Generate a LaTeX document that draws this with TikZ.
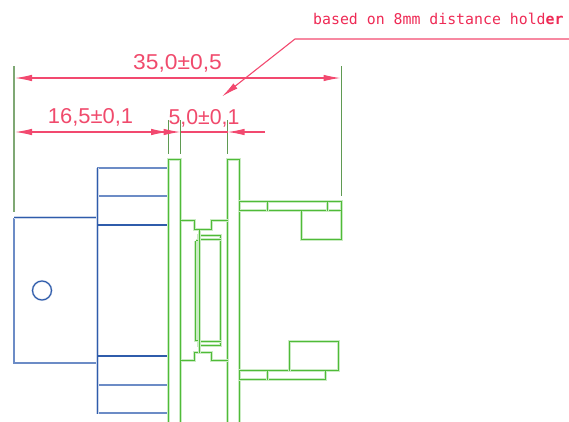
\documentclass[tikz,border=0pt]{standalone}
\usepackage{fontspec}
\setmainfont{Liberation Sans}
\newfontfamily\cadmono{DejaVu Sans Mono}
\usetikzlibrary{arrows.meta}
\definecolor{cadred}{HTML}{F04A6C}
\definecolor{notered}{HTML}{EE2A55}
\definecolor{linered}{HTML}{F2496F}
\definecolor{cadgreen}{HTML}{4FBB38}
\definecolor{extgreen}{HTML}{5F9A52}
\definecolor{softext}{HTML}{7FA874}
\definecolor{cadblue}{HTML}{2F5CAB}
\definecolor{softblue}{HTML}{6C8CC6}
\tikzset{
  dimline/.style={draw=linered,line width=1.1pt},
  tipA/.style={-{Latex[length=17pt,width=6.5pt]}},
  tipB/.style={{Latex[length=17pt,width=6.5pt]}-{Latex[length=17pt,width=6.5pt]}},
  extline/.style={draw=extgreen,line width=1.1pt},
  greenpart/.style={preaction={draw=cadgreen!30,line width=2.1pt},draw=cadgreen,line width=1.1pt},
  bluepart/.style={preaction={draw=cadblue!25,line width=2.1pt},draw=cadblue,line width=1.1pt},
  bluesoft/.style={draw=softblue,line width=1.1pt},
  bluethick/.style={draw=cadblue,line width=1.9pt},
  dimtext/.style={text=cadred,font=\fontsize{21.5}{24}\selectfont,inner sep=0pt},
  notetext/.style={text=notered,font=\cadmono\fontsize{14.85}{17}\selectfont,inner sep=0pt,anchor=west},
}
\begin{document}
\begin{tikzpicture}[x=1pt,y=-1pt]
\useasboundingbox (0,0) rectangle (569,421);
\clip (0,0) rectangle (569,421);
% blue body
\draw[bluesoft] (97,168) -- (168,168);
\draw[bluesoft] (97,413) -- (168,413);
\draw[bluesoft] (97,196) -- (168,196);
\draw[bluesoft] (97,385) -- (168,385);
\draw[bluesoft] (14,217.5) -- (14,363) -- (97,363);
\draw[bluepart] (14,217.5) -- (97.5,217.5);
\draw[bluepart] (97.5,167.5) -- (97.5,413.5);
\draw[bluethick] (97,225) -- (169,225);
\draw[bluethick] (97,356) -- (169,356);
\draw[bluepart] (42,290.5) circle (9.5);
% green plates
\draw[greenpart] (168.5,426) -- (168.5,159.5) -- (180.5,159.5) -- (180.5,426);
\draw[greenpart] (227.5,426) -- (227.5,159.5) -- (239.5,159.5) -- (239.5,426);
% upper flange
\draw[greenpart] (239.5,201.5) rectangle (341.5,210.5);
\draw[greenpart] (267.5,201.5) -- (267.5,210.5);
\draw[greenpart] (327.5,201.5) -- (327.5,210.5);
\draw[greenpart] (301.5,210.5) -- (301.5,239.5) -- (341.5,239.5) -- (341.5,210.5);
% lower flange
\draw[greenpart] (239.5,370.5) rectangle (325.5,379.5);
\draw[greenpart] (267.5,370.5) -- (267.5,379.5);
\draw[greenpart] (289.5,370.5) -- (289.5,341.5) -- (338.5,341.5) -- (338.5,370.5) -- (325.5,370.5);
% central profile
\draw[greenpart] (180.5,220.5) -- (194.5,220.5) -- (194.5,229.5) -- (211.5,229.5) -- (211.5,220.5) -- (227.5,220.5);
\draw[greenpart] (180.5,360.5) -- (194.5,360.5) -- (194.5,352.5) -- (211.5,352.5) -- (211.5,360.5) -- (227.5,360.5);
\draw[greenpart] (198.5,235.5) rectangle (220.5,345.5);
\draw[greenpart] (198.5,239.5) -- (220.5,239.5);
\draw[greenpart] (198.5,341.5) -- (220.5,341.5);
\draw[greenpart] (195.5,240.5) -- (195.5,340.5) -- (199.5,340.5);
\draw[greenpart] (195.5,240.5) -- (199.5,240.5);
\draw[greenpart] (199.5,229.5) -- (199.5,352.5);
% extension lines
\coordinate (extLa) at (14,66);
\coordinate (extLb) at (14,212);
\coordinate (extRa) at (341.5,66);
\coordinate (extRb) at (341.5,196);
\coordinate (extAa) at (168.5,120);
\coordinate (extAb) at (168.5,154);
\coordinate (extBa) at (180.5,120);
\coordinate (extBb) at (180.5,154);
\coordinate (extCa) at (227.5,120);
\coordinate (extCb) at (227.5,154);
\draw[extline,draw=softext] (extLa) -- (extLb);
\draw[extline] (extRa) -- (extRb);
\draw[extline] (extAa) -- (extAb);
\draw[extline] (extBa) -- (extBb);
\draw[extline] (extCa) -- (extCb);
% dimensions
\coordinate (dimAl) at (15,78);
\coordinate (dimAr) at (340.5,78);
\coordinate (dimBl) at (15,132);
\coordinate (dimBr) at (168,132);
\coordinate (dimCl) at (143,132);
\coordinate (dimCr) at (180.5,132);
\coordinate (dimDl) at (180.5,132);
\coordinate (dimDr) at (227.5,132);
\coordinate (dimDe) at (265,132);
\draw[dimline,tipB] (dimAl) -- (dimAr);
\draw[dimline,tipB] (dimBl) -- (dimBr);
\draw[dimline,tipA] (dimCl) -- (dimCr);
\draw[dimline] (dimDl) -- (dimDr);
\draw[dimline,tipA] (dimDe) -- (dimDr);
\node[dimtext] (lblA) at (177.5,63) {\scalebox{1.06}[1]{35,0±0,5}};
\node[dimtext] (lblB) at (90.5,117.5) {\scalebox{1.02}[1]{16,5±0,1}};
\node[dimtext] (lblC) at (204,118) {\scalebox{0.99}[1]{5,0±0,1}};
% leader
\coordinate (ldEnd) at (569,39);
\coordinate (ldBend) at (295,39);
\coordinate (ldTip) at (222,96.5);
\draw[dimline,tipA] (ldEnd) -- (ldBend) -- (ldTip);
\node[notetext] (note) at (313,18.5) {based on 8mm distance hold\textbf{er}};
\end{tikzpicture}
\end{document}
